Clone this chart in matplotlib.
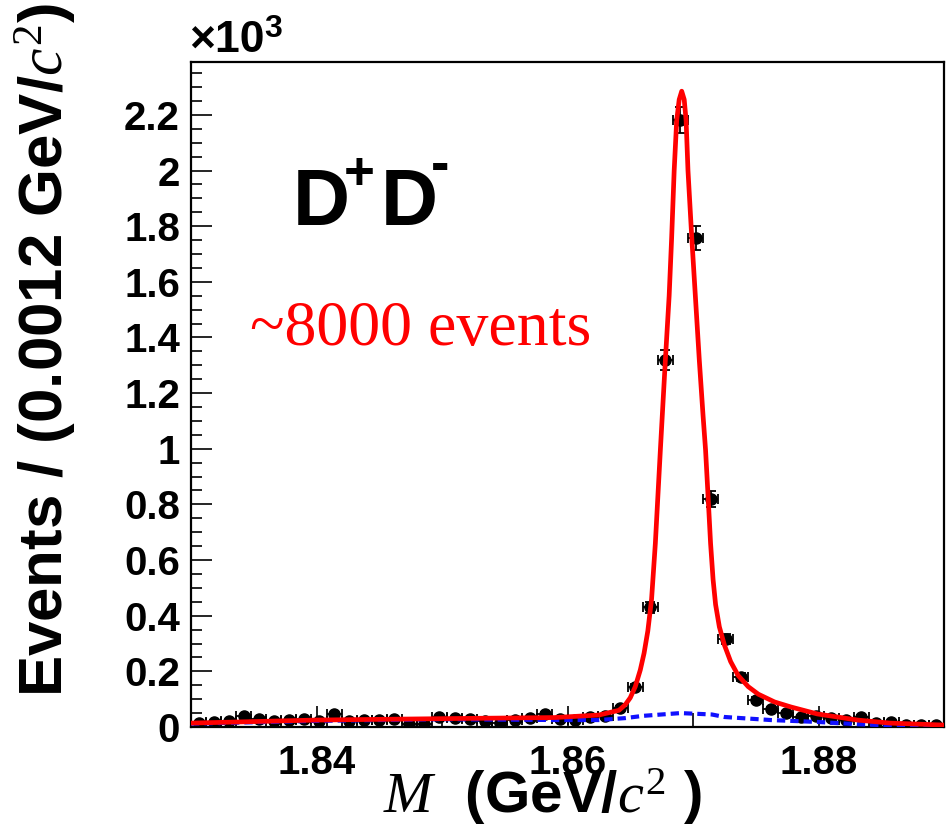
import numpy as np
import matplotlib
matplotlib.use("Agg")
import matplotlib.pyplot as plt
from matplotlib.ticker import MultipleLocator, FixedLocator

plt.rcParams["mathtext.fontset"] = "custom"
plt.rcParams["mathtext.it"] = "Liberation Serif:italic"
plt.rcParams["mathtext.rm"] = "Liberation Serif"

# histogram: 50 bins of 0.0012 GeV/c^2 from 1.83
bin_lo = 1.83
bin_w = 0.0012
counts = [15, 18, 20, 40, 28, 20, 25, 28, 22, 45,
          20, 25, 25, 28, 12, 10, 35, 32, 28, 22,
          15, 25, 32, 48, 30, 25, 35, 40, 68, 144,
          430, 1320, 2180, 1758, 820, 315, 180, 97, 65, 50,
          36, 40, 32, 25, 36, 14, 18, 7, 7, 7]

# total fit curve (x10^3 events)
fit_x = [1.8300, 1.8400, 1.8500, 1.8590, 1.8625, 1.8641, 1.8646, 1.8650,
         1.8654, 1.8658, 1.8661, 1.8664, 1.8667, 1.8670, 1.8674, 1.8678,
         1.8681, 1.8683, 1.8685, 1.8687, 1.8689, 1.8691, 1.8693, 1.86945,
         1.8696, 1.8699, 1.8702, 1.8705, 1.8708, 1.8710, 1.8712, 1.8714,
         1.8716, 1.8718, 1.8721, 1.8725, 1.8730, 1.8736, 1.8744, 1.8752,
         1.8765, 1.8778, 1.8799, 1.8831, 1.8857, 1.8900]
fit_y = [0.014, 0.025, 0.030, 0.034, 0.043, 0.060, 0.080, 0.105,
         0.145, 0.205, 0.265, 0.345, 0.460, 0.660, 0.996, 1.320,
         1.550, 1.760, 2.000, 2.180, 2.255, 2.285, 2.255, 2.180,
         2.000, 1.760, 1.540, 1.320, 1.120, 0.996, 0.830, 0.660,
         0.530, 0.440, 0.360, 0.295, 0.235, 0.185, 0.145, 0.118,
         0.090, 0.072, 0.047, 0.025, 0.014, 0.007]

# background component
bkg_x = [1.8300, 1.8400, 1.8500, 1.8593, 1.8625, 1.8646, 1.8660, 1.8690,
         1.8715, 1.8725, 1.8762, 1.8800, 1.8831, 1.8857, 1.8900]
bkg_y = [0.012, 0.022, 0.028, 0.025, 0.025, 0.032, 0.040, 0.050,
         0.045, 0.036, 0.025, 0.018, 0.010, 0.006, 0.004]

counts = np.array(counts, dtype=float)
centers = bin_lo + bin_w * (np.arange(len(counts)) + 0.5)
vals = counts / 1000.0
errs = np.sqrt(counts) / 1000.0

W, H = 951, 824
fig = plt.figure(figsize=(W / 100, H / 100), dpi=100)
ax = fig.add_axes([191 / W, 1 - 727 / H, (944 - 191) / W, (727 - 62) / H])

ax.errorbar(centers, vals, xerr=bin_w / 2, yerr=errs, fmt="o", color="black",
            markersize=8, elinewidth=1.3, capsize=3.5, capthick=1.3, zorder=2)
ax.plot(bkg_x, bkg_y, color="#1010ff", lw=3, linestyle=(0, (2, 1.2)), zorder=3)
ax.plot(fit_x, fit_y, color="#ff0000", lw=3.4, zorder=4,
        solid_joinstyle="round")

ax.set_xlim(1.83, 1.89)
ax.set_ylim(0, 2.39)

ax.xaxis.set_major_locator(FixedLocator([1.84, 1.86, 1.88]))
ax.xaxis.set_minor_locator(FixedLocator([1.83, 1.85, 1.87, 1.89]))
ax.yaxis.set_major_locator(MultipleLocator(0.2))
ax.yaxis.set_minor_locator(MultipleLocator(0.05))
yt = np.arange(0, 2.21, 0.2)
ax.set_yticks(yt)
ax.set_yticklabels([f"{v:.1f}".rstrip("0").rstrip(".") if v > 0 else "0" for v in yt])
ax.set_xticklabels(["1.84", "1.86", "1.88"])

ax.tick_params(which="both", direction="in", top=False, right=False, width=1.2)
ax.tick_params(axis="y", which="major", length=15, pad=8)
ax.tick_params(axis="y", which="minor", length=8)
ax.tick_params(axis="x", which="major", length=15, pad=12)
ax.tick_params(axis="x", which="minor", length=10)
for lab in ax.get_xticklabels() + ax.get_yticklabels():
    lab.set_fontfamily("Liberation Sans")
    lab.set_fontweight("bold")
    lab.set_fontsize(29)
for sp in ax.spines.values():
    sp.set_linewidth(1.6)

def px(x, y):
    return x / W, 1 - y / H

sans_bold = dict(family="Liberation Sans", weight="bold")

# axis titles
fig.text(*px(46, 350), "Events / (0.0012 GeV/$c^{2}$)", rotation=90,
         ha="center", va="center", fontsize=44.5, **sans_bold)
fig.text(*px(542, 813), "$M$  (GeV/$c^{2}$ )", ha="center", va="baseline",
         fontsize=42, **sans_bold)

# exponent
fig.text(*px(189, 52), "\u00d710", ha="left", va="baseline", fontsize=32, **sans_bold)
fig.text(*px(264, 37), "3", ha="left", va="baseline", fontsize=23, **sans_bold)

# D+D- label
fig.text(*px(293, 225), "D", ha="left", va="baseline", fontsize=57, **sans_bold)
fig.text(*px(344, 189), "+", ha="left", va="baseline", fontsize=38, **sans_bold)
fig.text(*px(381, 225), "D", ha="left", va="baseline", fontsize=57, **sans_bold)
fig.text(*px(431, 181), "-", ha="left", va="baseline", fontsize=40, **sans_bold)

fig.text(*px(250, 345), "~8000 events", ha="left", va="baseline", fontsize=46,
         family="Liberation Serif", color="#ff0000")

fig.savefig("out.png", dpi=100)
